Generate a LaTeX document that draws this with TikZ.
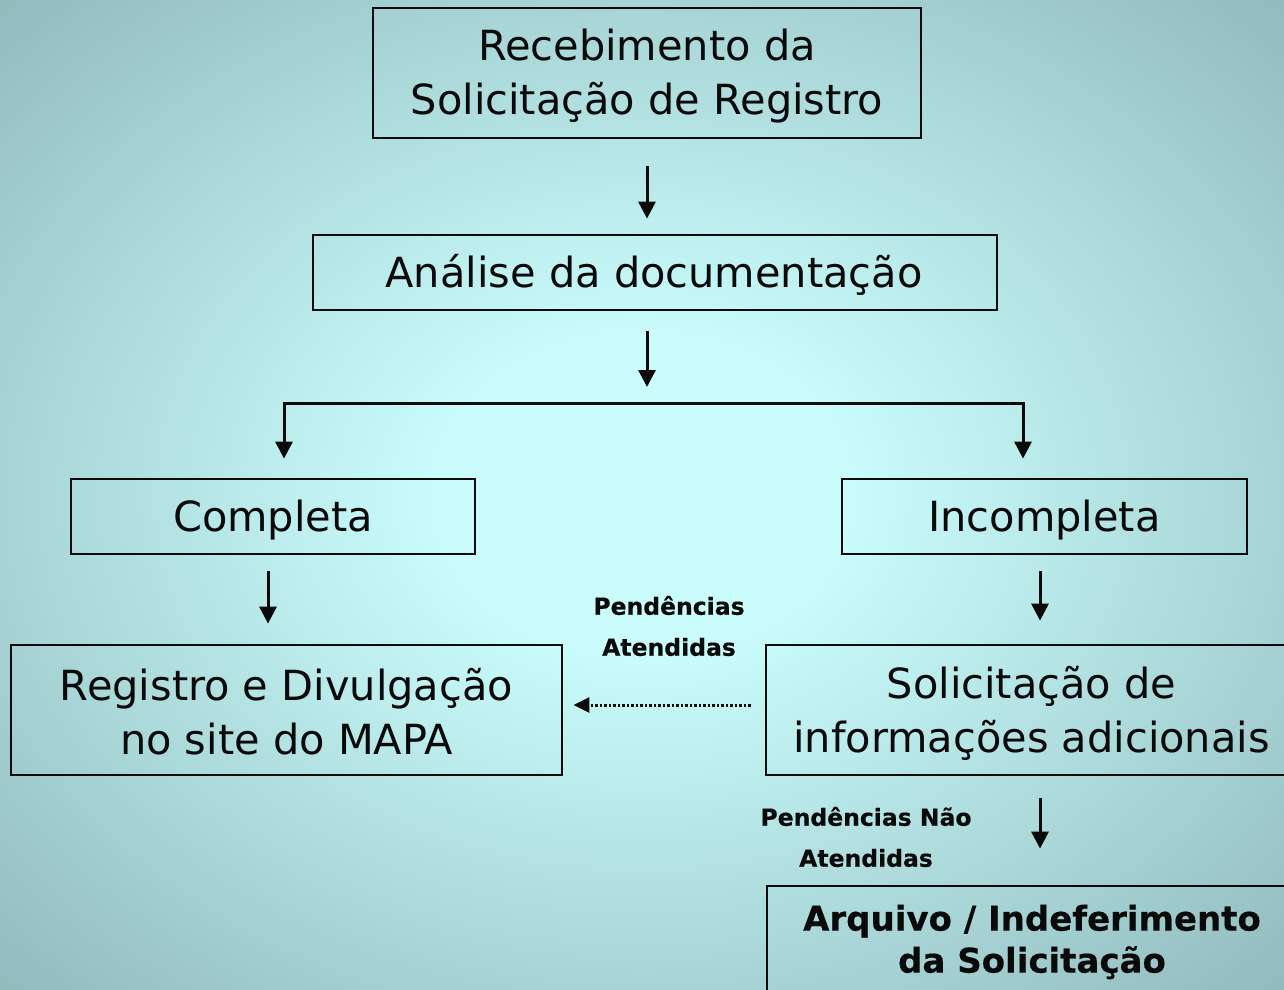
\documentclass[tikz,border=0pt]{standalone}
\usepackage{fontspec}
\setmainfont{DejaVu Sans}
\newfontfamily\lblfont[FakeBold=0.5]{DejaVu Sans Bold}
\usetikzlibrary{arrows.meta,calc}
\definecolor{bgin}{RGB}{202,252,252}
\definecolor{bgout}{RGB}{140,180,182}
\definecolor{ink}{RGB}{10,10,10}
\pgfdeclareradialshading{bgshade}{\pgfpoint{0bp}{0bp}}{color(0bp)=(bgin); color(8bp)=(bgin); color(38bp)=(bgout); color(50bp)=(bgout)}
\begin{document}
\begin{tikzpicture}[x=1pt,y=-1pt,
  box/.style={draw=ink,line width=2.8pt,inner sep=0pt},
  txt/.style={align=center,inner sep=0pt,font=\fontsize{41.5}{54}\selectfont,text=ink},
  btxt/.style={align=center,inner sep=0pt,font=\fontsize{34}{42}\selectfont\lblfont,text=ink},
  lbl/.style={align=center,font=\fontsize{23.5}{41}\selectfont\lblfont,text=ink},
  arr/.style={draw=ink,line width=3pt,-{Triangle[width=17pt,length=17pt]}},
  dotarr/.style={draw=ink,line width=3pt,dash pattern=on 2.5pt off 2pt,-{Triangle[width=15pt,length=16pt]}}]
\path[clip] (0,0) rectangle (1284,989);
\shade[shading=bgshade] (0,0) rectangle (1284,989);
% boxes
\node[box,minimum width=548,minimum height=130] (b1) at (647,73) {};
\node[box,minimum width=684,minimum height=75] (b2) at (655,272.5) {};
\node[box,minimum width=404,minimum height=75] (b3) at (273,516.5) {};
\node[box,minimum width=405,minimum height=75] (b4) at (1044.5,516.5) {};
\node[box,minimum width=551,minimum height=130] (b5) at (286.5,710) {};
\node[box,minimum width=531,minimum height=130] (b6) at (1031.5,710) {};
\node[box,minimum width=530,minimum height=108] (b7) at (1032,940) {};
% texts
\node[txt] (t1) at ([yshift=-3.5pt]b1.center) {Recebimento da\\Solicitação de Registro};
\node[txt] (t2) at ([yshift=-2pt,xshift=-1pt]b2.center) {Análise da documentação};
\node[txt] (t3) at ([yshift=-3.5pt]b3.center) {Completa};
\node[txt] (t4) at ([yshift=-3.5pt]b4.center) {Incompleta};
\node[txt] (t5) at ([yshift=-2pt]b5.center) {Registro e Divulgação\\no site do MAPA};
\node[txt] (t6) at ([yshift=-3.5pt]b6.center) {Solicitação de\\informações adicionais};
\node[btxt] (t7) at ([yshift=-2pt]b7.center) {Arquivo / Indeferimento\\da Solicitação};
% labels
\node[lbl] (l1) at (669,626) {Pendências\\Atendidas};
\node[lbl] (l2) at (866,837) {Pendências Não\\Atendidas};
% connectors
\coordinate (j) at (647,403);
\coordinate (jl) at (284,403);
\coordinate (jr) at (1023,403);
\coordinate (dy) at (0,705);
\draw[arr,shorten <=27pt,shorten >=15pt] (b1.south -| j) -- (b2.north -| j);
\draw[arr,shorten <=20pt,shorten >=16pt] (b2.south -| j) -- (j);
\draw[draw=ink,line width=3pt,line cap=rect] (jl) -- (jr);
\draw[arr,shorten >=19pt] (jl) -- (jl |- b3.north);
\draw[arr,shorten >=19pt] (jr) -- (jr |- b4.north);
\coordinate (xc) at (268,0);
\coordinate (xi) at (1040,0);
\draw[arr,shorten <=16pt,shorten >=20pt] (xc |- b3.south) -- (xc |- b5.north);
\draw[arr,shorten <=16pt,shorten >=23pt] (xi |- b4.south) -- (xi |- b6.north);
\draw[arr,shorten <=22pt,shorten >=36pt] (xi |- b6.south) -- (xi |- b7.north);
\draw[dotarr,shorten <=14pt,shorten >=10pt] (b6.west |- dy) -- (b5.east |- dy);
\end{tikzpicture}
\end{document}
